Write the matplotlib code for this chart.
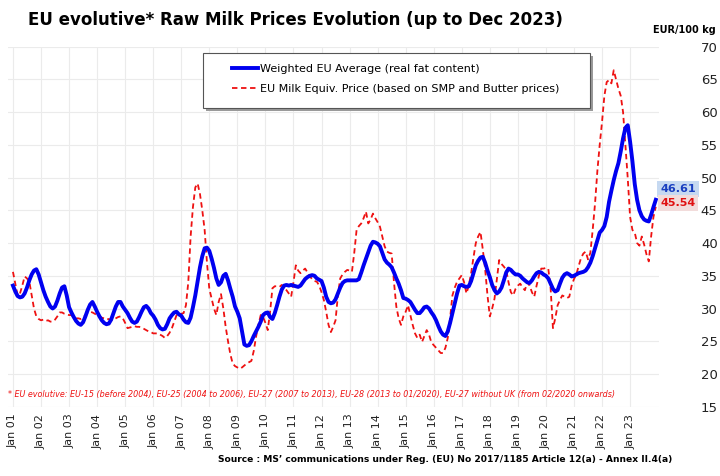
import matplotlib
matplotlib.use("Agg")
import matplotlib.pyplot as plt
import numpy as np
from matplotlib.patches import Rectangle

# monthly prices Jan 2001 .. Dec 2023 (EUR/100 kg), one row per year
eu_avg = [
    33.5, 32.6, 31.9, 31.7, 31.8, 32.3, 33.2, 34.3, 35.2, 35.8, 36.0, 35.2,  # 2001
    34.0, 32.8, 31.8, 31.0, 30.3, 30.0, 30.3, 31.2, 32.3, 33.2, 33.4, 32.0,  # 2002
    30.2, 29.4, 28.7, 28.1, 27.7, 27.5, 27.9, 28.8, 29.8, 30.6, 31.0, 30.3,  # 2003
    29.5, 28.8, 28.2, 27.8, 27.6, 27.7, 28.3, 29.3, 30.3, 31.0, 31.0, 30.3,  # 2004
    29.8, 29.3, 28.6, 28.0, 27.8, 28.0, 28.7, 29.5, 30.2, 30.4, 30.0, 29.3,  # 2005
    28.9, 28.3, 27.5, 27.0, 26.8, 26.9, 27.6, 28.5, 29.0, 29.4, 29.5, 29.1,  # 2006
    28.9, 28.3, 27.9, 27.8, 28.6, 30.2, 32.0, 34.2, 36.3, 38.0, 39.2, 39.3,  # 2007
    38.8, 37.6, 36.2, 34.6, 33.6, 34.0, 35.0, 35.3, 34.3, 33.0, 31.8, 30.3,  # 2008
    29.5, 28.5, 26.5, 24.5, 24.3, 24.4, 25.0, 25.8, 26.5, 27.2, 28.0, 29.0,  # 2009
    29.3, 29.4, 28.7, 28.4, 29.3, 30.5, 31.8, 32.9, 33.5, 33.6, 33.5, 33.6,  # 2010
    33.5, 33.4, 33.3, 33.5, 34.0, 34.5, 34.8, 35.0, 35.1, 35.0, 34.6, 34.4,  # 2011
    34.2, 33.2, 31.8, 31.0, 30.8, 30.9, 31.4, 32.3, 33.2, 33.9, 34.2, 34.3,  # 2012
    34.3, 34.3, 34.3, 34.3, 34.5, 35.5, 36.6, 37.6, 38.6, 39.6, 40.2, 40.1,  # 2013
    39.9, 39.5, 38.5, 37.5, 37.0, 36.7, 36.3, 35.5, 34.6, 33.8, 32.8, 31.6,  # 2014
    31.5, 31.3, 31.0, 30.4, 29.8, 29.3, 29.3, 29.7, 30.2, 30.3, 30.0, 29.4,  # 2015
    28.9, 28.2, 27.3, 26.5, 26.0, 25.8, 26.5, 27.8, 29.3, 30.8, 32.3, 33.5,  # 2016
    33.6, 33.4, 33.3, 33.4, 34.2, 35.4, 36.6, 37.3, 37.8, 37.9, 37.0, 35.8,  # 2017
    34.8, 33.6, 32.8, 32.3, 32.6, 33.2, 34.3, 35.5, 36.1, 35.9, 35.5, 35.2,  # 2018
    35.2, 35.0, 34.6, 34.3, 34.0, 33.9, 34.3, 34.9, 35.4, 35.6, 35.5, 35.2,  # 2019
    35.0, 34.6, 33.8, 33.0, 32.6, 32.8, 33.8, 34.7, 35.2, 35.4, 35.2, 34.9,  # 2020
    35.0, 35.2, 35.4, 35.5, 35.6, 35.8, 36.3, 37.0, 38.0, 39.2, 40.4, 41.6,  # 2021
    42.0, 42.6, 44.0, 46.3, 48.0, 49.6, 51.0, 52.2, 54.0, 56.0, 57.6, 58.0,  # 2022
    55.5, 52.5, 49.0, 46.6, 45.0, 44.1, 43.6, 43.4, 43.3, 44.3, 45.5, 46.61,  # 2023
]

milk_equiv = [
    35.6, 33.8, 32.0, 32.3, 33.5, 34.9, 34.6, 34.1, 32.0, 30.0, 28.8, 28.4,  # 2001
    28.2, 28.3, 28.1, 28.2, 28.0, 28.0, 28.3, 28.8, 29.4, 29.4, 29.2, 29.1,  # 2002
    29.0, 29.0, 28.7, 28.5, 28.5, 28.4, 28.6, 29.0, 29.4, 29.5, 29.4, 29.2,  # 2003
    29.0, 28.8, 28.6, 28.5, 28.3, 28.4, 28.2, 28.3, 28.5, 28.7, 28.8, 28.5,  # 2004
    27.8, 27.0, 27.1, 27.2, 27.3, 27.2, 27.2, 27.1, 26.9, 26.7, 26.5, 26.4,  # 2005
    26.2, 26.2, 26.2, 26.0, 25.8, 25.5, 25.8, 26.3, 27.0, 28.0, 29.0, 29.2,  # 2006
    29.2, 29.3, 30.5, 34.0, 41.0, 45.5, 48.5, 49.1, 47.5, 45.0, 42.0, 37.0,  # 2007
    33.0, 31.5, 30.0, 29.0, 31.0, 32.2, 30.0, 27.2, 25.0, 23.0, 21.6, 21.2,  # 2008
    21.0, 20.8, 21.0, 21.3, 21.6, 21.8, 22.0, 23.5, 25.7, 27.5, 29.0, 28.7,  # 2009
    27.8, 26.7, 29.5, 33.1, 33.4, 33.4, 33.3, 33.6, 33.2, 32.8, 32.3, 31.8,  # 2010
    34.0, 36.6, 35.8, 35.4, 35.8, 36.1, 35.5, 34.9, 34.5, 34.2, 34.1, 33.5,  # 2011
    32.5, 31.3, 29.5, 27.5, 26.4, 27.2, 28.2, 32.0, 34.6, 35.2, 35.6, 35.9,  # 2012
    35.8, 35.6, 38.5, 42.0, 42.6, 43.0, 43.8, 44.8, 43.0, 43.6, 44.5, 43.8,  # 2013
    43.2, 42.5, 41.0, 39.5, 38.7, 38.5, 38.4, 34.0, 30.3, 28.5, 27.5, 28.8,  # 2014
    29.5, 30.5, 29.0, 27.5, 26.2, 25.5, 26.0, 24.9, 25.8, 26.7, 26.0, 24.8,  # 2015
    24.4, 24.0, 23.6, 23.2, 23.2, 24.0, 25.5, 28.5, 32.0, 33.2, 34.1, 34.6,  # 2016
    35.1, 34.0, 32.3, 33.5, 35.4, 37.8, 40.0, 41.0, 41.7, 39.0, 36.0, 32.0,  # 2017
    28.8, 30.0, 31.5, 34.5, 37.4, 36.8, 36.4, 35.9, 34.0, 32.5, 32.0, 33.0,  # 2018
    33.5, 33.8, 33.2, 32.8, 34.0, 33.5, 32.5, 31.8, 33.5, 35.0, 36.1, 36.1,  # 2019
    36.2, 36.1, 33.1, 27.0, 28.5, 30.5, 31.3, 32.0, 31.8, 31.6, 31.8, 33.5,  # 2020
    34.5, 35.2, 36.5, 37.7, 38.4, 38.7, 37.5, 38.5, 42.0, 46.0, 51.0, 55.0,  # 2021
    58.5, 62.5, 64.6, 64.9, 64.4, 66.4, 65.0, 63.6, 62.5, 60.0, 55.0, 49.9,  # 2022
    44.0, 42.0, 41.6, 40.0, 39.6, 41.0, 39.8, 38.3, 37.2, 41.0, 44.0, 45.54,  # 2023
]

years = ["01", "02", "03", "04", "05", "06", "07", "08", "09", "10", "11", "12",
         "13", "14", "15", "16", "17", "18", "19", "20", "21", "22", "23"]
y_ticks = [15, 20, 25, 30, 35, 40, 45, 50, 55, 60, 65, 70]

months = np.arange(len(eu_avg))

fig = plt.figure(figsize=(7.2, 4.76), dpi=100)
ax = fig.add_axes([0.0115, 0.1456, 0.9042, 0.7563])

ax.plot(months, milk_equiv, color="#ee1111", lw=1.3, ls=(0, (3, 2)), zorder=3,
        label="EU Milk Equiv. Price (based on SMP and Butter prices)")
ax.plot(months, eu_avg, color="#0000f0", lw=2.8, zorder=4,
        label="Weighted EU Average (real fat content)")

ax.set_xlim(-2, 276.5)
ax.set_ylim(15, 70)
ax.set_xticks(np.arange(0, len(years) * 12, 12))
ax.set_xticklabels(["Jan " + y for y in years], rotation=90, fontsize=8, color="#222222")
ax.set_yticks(y_ticks)
ax.yaxis.tick_right()
ax.tick_params(axis="y", length=0, pad=36, labelsize=9.5, labelcolor="#222222")
ax.tick_params(axis="x", length=0, pad=5)
for t in ax.get_yticklabels():
    t.set_horizontalalignment("center")
ax.grid(True, color="#ebebeb", lw=0.8)
ax.set_axisbelow(True)
for s in ax.spines.values():
    s.set_visible(False)

# legend box with shadow
fig.patches.append(Rectangle((206 / 720, 1 - 111 / 476), 387 / 720, 55 / 476,
                             transform=fig.transFigure, facecolor="#9a9a9a",
                             edgecolor="none", zorder=5))
fig.patches.append(Rectangle((203 / 720, 1 - 108 / 476), 387 / 720, 55 / 476,
                             transform=fig.transFigure, facecolor="white",
                             edgecolor="#555555", lw=0.8, zorder=6))
h, l = ax.get_legend_handles_labels()
leg = fig.legend(h[::-1], l[::-1], loc="upper left", bbox_to_anchor=(224 / 720, 1 - 56 / 476),
                 frameon=False, fontsize=8, handlelength=2.4, handletextpad=0.15,
                 labelspacing=0.95, borderpad=0.2)
leg.set_zorder(7)

fig.text(28 / 720, 1 - 20 / 476, "EU evolutive* Raw Milk Prices Evolution (up to Dec 2023)",
         fontsize=12, fontweight="bold", va="center", ha="left")
fig.text(716 / 720, 1 - 30 / 476, "EUR/100 kg", fontsize=7, fontweight="bold",
         va="center", ha="right")

fig.text(8 / 720, 1 - 395 / 476,
         "* EU evolutive: EU-15 (before 2004), EU-25 (2004 to 2006), EU-27 (2007 to 2013), "
         "EU-28 (2013 to 01/2020), EU-27 without UK (from 02/2020 onwards)",
         fontsize=5.8, style="italic", color="#ee1111", va="center", ha="left",
         family=["Liberation Sans Narrow", "DejaVu Sans"])
fig.text(672 / 720, 1 - 459 / 476,
         "Source : MS\u2019 communications under Reg. (EU) No 2017/1185 Article 12(a) - Annex II.4(a)",
         fontsize=6.6, fontweight="bold", va="center", ha="right")

# last-value labels
fig.text(678 / 720, 1 - 189 / 476, f"{eu_avg[-1]:.2f}", fontsize=8, fontweight="bold",
         color="#1a3fc0", ha="center", va="center",
         bbox=dict(boxstyle="square,pad=0.25", facecolor="#c6d9f1", edgecolor="none"))
fig.text(678 / 720, 1 - 203 / 476, f"{milk_equiv[-1]:.2f}", fontsize=8, fontweight="bold",
         color="#e01010", ha="center", va="center",
         bbox=dict(boxstyle="square,pad=0.25", facecolor="#f2dcdb", edgecolor="none"))

fig.savefig("out.png", dpi=100)
